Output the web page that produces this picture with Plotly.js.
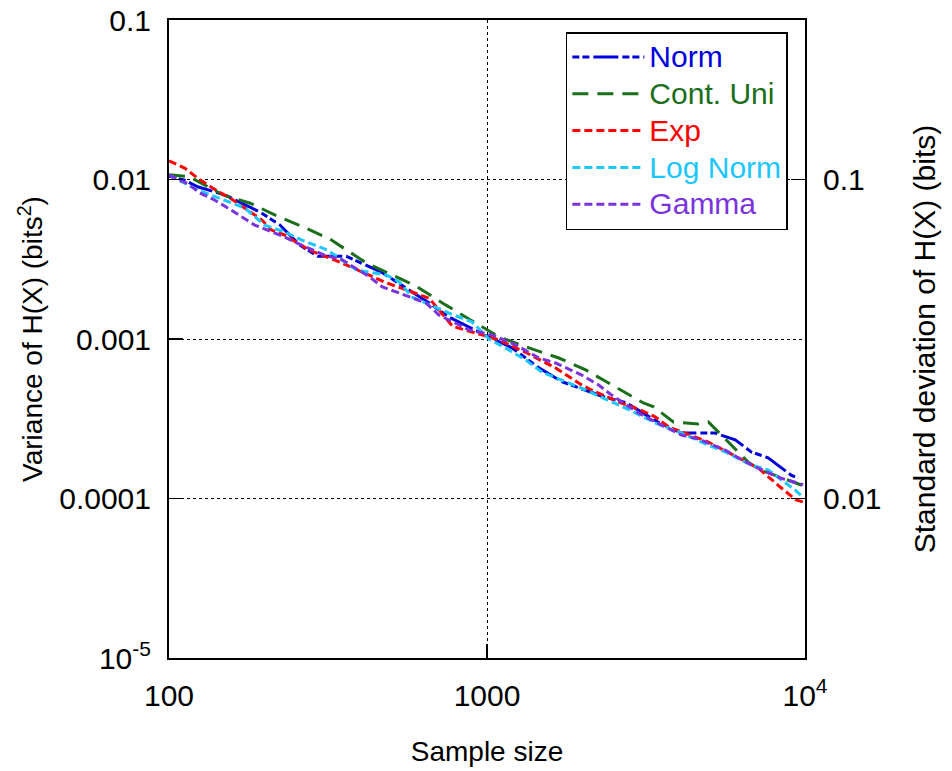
<!DOCTYPE html>
<html>
<head>
<meta charset="utf-8">
<script src="https://cdn.plot.ly/plotly-3.0.1.min.js"></script>
<style>html,body{margin:0;padding:0;background:#fff;}</style>
</head>
<body>
<div id="chart" style="width:952px;height:771px;"></div>
<script>
// ---- data ----
const seriesNames = ['Norm', 'Cont. Uni', 'Exp', 'Log Norm', 'Gamma'];

const normN   = [100,112,123,150,193,223,257,293,361,436,465,658,760,1015,1198,1456,1719,2360,2728,3461,4087,5222,6035,6773,7656,9041,9500];
const normVar = [0.0105,0.0099,0.0090,0.0080,0.00625,0.0052,0.0039,0.0033,0.0033,0.0028,0.00263,0.00168,0.00137,0.00103,0.00088,0.00066,0.00054,0.00043,0.00040,0.00030,0.000257,0.000257,0.000233,0.000196,0.00018,0.00014,0.000134];

const uniN   = [100,112,116,148,180,215,267,320,331,397,417,569,604,743,909,1091,1355,1682,2043,2538,3105,3342,3857,4619,4966,5738,6627,7226,8851,9900];
const uniVar = [0.0107,0.0105,0.0104,0.0080,0.0071,0.0060,0.0050,0.00424,0.00406,0.00322,0.0030,0.00225,0.00212,0.00163,0.00128,0.00103,0.00088,0.00076,0.00064,0.00050,0.000397,0.000375,0.000302,0.000293,0.000302,0.000226,0.000169,0.000151,0.000131,0.00012];

const expN   = [100,112,123,137,159,171,196,210,231,276,351,475,658,780,964,1091,1334,1644,1986,2197,2649,3038,3387,3724,4966,6773,7125,8356,9376,9862];
const expVar = [0.0131,0.0118,0.0102,0.00885,0.00744,0.00673,0.00557,0.00482,0.00449,0.00361,0.00299,0.00228,0.0018,0.0012,0.00106,0.000986,0.000817,0.000658,0.000515,0.000465,0.000397,0.000359,0.000324,0.000281,0.000226,0.000162,0.000155,0.000118,0.0000979,0.0000951];

const lognN   = [100,123,173,200,231,261,315,388,482,530,582,788,897,1015,1172,1325,1487,1782,2043,2466,2728,3387,4087,4966,5611,6773,7656,9311,9862];
const lognVar = [0.01067,0.0086,0.00663,0.00518,0.00469,0.00418,0.00361,0.00271,0.00252,0.00228,0.00183,0.00141,0.00128,0.0010,0.000853,0.000738,0.000621,0.000537,0.000479,0.000403,0.000369,0.000297,0.000257,0.000216,0.000196,0.000162,0.000151,0.000113,0.000102];

const gammaN   = [100,115,125,139,153,169,186,231,261,308,351,427,469,530,644,707,879,1037,1233,1456,1644,1986,2244,2466,2994,3387,4087,4619,5611,6166,6966,8414,9862];
const gammaVar = [0.01067,0.00937,0.00823,0.00744,0.00663,0.00582,0.00518,0.00436,0.00388,0.00336,0.00313,0.00245,0.00212,0.00194,0.00168,0.00141,0.00114,0.00106,0.000917,0.00076,0.000707,0.000594,0.000515,0.000445,0.000344,0.000302,0.00025,0.000236,0.000201,0.00018,0.000158,0.000134,0.000122];

const xTickVals = [100, 1000, 10000];
const xTickText = ['100', '1000', '10<sup>4</sup>'];
const yTickVals = [1e-5, 1e-4, 1e-3, 1e-2, 0.1];
const yTickText = ['10<sup>-5</sup>', '0.0001', '0.001', '0.01', '0.1'];
const y2TickVals = [0.01, 0.1];
const y2TickText = ['0.01', '0.1'];

// ---- styling ----
const colors = ['#0000dd', '#1b6e1b', '#ff0000', '#1cc6ff', '#7a33dd'];
const dashes = ['7px,3px,7px,4px,25px,4px', '16px,9px', '8px,4px', '8px,4px', '8px,4px'];
const xs = [normN, uniN, expN, lognN, gammaN];
const ys = [normVar, uniVar, expVar, lognVar, gammaVar];
const FONT = 'Liberation Sans, Arial, sans-serif';

const traces = seriesNames.map((nm, i) => ({
  type: 'scatter', mode: 'lines',
  x: xs[i], y: ys[i],
  name: '<span style="color:' + colors[i] + ';font-size:30px">' + nm + '</span>',
  line: {color: colors[i], width: 3, dash: dashes[i]},
  hoverinfo: 'x+y'
}));
// standard deviation (sqrt of variance) on the right-hand axis; drawn invisibly so the axis exists
traces.push({
  type: 'scatter', mode: 'lines', x: normN, y: normVar.map(Math.sqrt),
  yaxis: 'y2', opacity: 0, showlegend: false, hoverinfo: 'skip',
  line: {color: colors[0], width: 0}
});

const axisCommon = {
  showline: true, linecolor: '#000', linewidth: 2,
  ticks: 'inside', ticklen: 14, tickwidth: 1.5, tickcolor: '#000',
  zeroline: false, tickfont: {family: FONT, size: 30, color: '#000'}
};

const layout = {
  width: 952, height: 771,
  margin: {l: 169, r: 147, t: 20, b: 113},
  paper_bgcolor: '#fff', plot_bgcolor: '#fff',
  font: {family: FONT, color: '#000'},
  showlegend: true,
  legend: {
    x: 0.624, y: 0.981, xanchor: 'left', yanchor: 'top',
    bgcolor: '#fff', bordercolor: '#000', borderwidth: 1.5,
    font: {family: FONT, size: 26},
    itemwidth: 72
  },
  xaxis: Object.assign({}, axisCommon, {
    type: 'log', range: [2, 4], mirror: true,
    tickmode: 'array', tickvals: xTickVals, ticktext: xTickText,
    showgrid: true, gridcolor: '#000', gridwidth: 1, griddash: 'dot',
    ticklabelstandoff: 10,
    title: {text: 'Sample size', font: {family: FONT, size: 28, color: '#000'}, standoff: 30}
  }),
  yaxis: Object.assign({}, axisCommon, {
    type: 'log', range: [-5, -1], mirror: true,
    tickmode: 'array', tickvals: yTickVals, ticktext: yTickText,
    showgrid: true, gridcolor: '#000', gridwidth: 1, griddash: 'dot',
    ticklabelstandoff: 10,
    title: {text: 'Variance of H(X) (bits<sup>2</sup>)', font: {family: FONT, size: 28, color: '#000'}, standoff: 8}
  }),
  yaxis2: Object.assign({}, axisCommon, {
    type: 'log', range: [-2.5, -0.5], overlaying: 'y', side: 'right',
    tickmode: 'array', tickvals: y2TickVals, ticktext: y2TickText,
    showgrid: false, ticklabelstandoff: 10,
    title: {text: 'Standard deviation of H(X) (bits)', font: {family: FONT, size: 30, color: '#000'}, standoff: 34}
  })
};

Plotly.newPlot('chart', traces, layout, {displayModeBar: false, staticPlot: true});
</script>
</body>
</html>
